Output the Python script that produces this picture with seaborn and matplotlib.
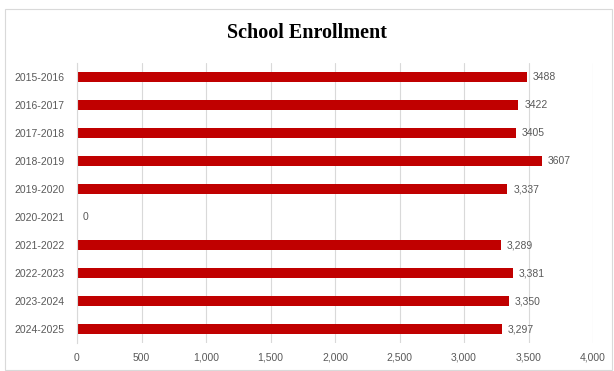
import matplotlib
matplotlib.use("Agg")
import matplotlib.pyplot as plt
import seaborn as sns
import pandas as pd
from matplotlib.patches import Rectangle

years = ["2015-2016", "2016-2017", "2017-2018", "2018-2019", "2019-2020",
         "2020-2021", "2021-2022", "2022-2023", "2023-2024", "2024-2025"]
enrollment = [3488, 3422, 3405, 3607, 3337, 0, 3289, 3381, 3350, 3297]
value_labels = ["3488", "3422", "3405", "3607", "3,337", "0",
                "3,289", "3,381", "3,350", "3,297"]
x_ticks = [0, 500, 1000, 1500, 2000, 2500, 3000, 3500, 4000]
x_tick_labels = ["0", "500", "1,000", "1,500", "2,000", "2,500", "3,000", "3,500", "4,000"]

df = pd.DataFrame({"Year": years, "Enrollment": enrollment})

sns.set_theme(style="white")
plt.rcParams['font.family'] = ['Liberation Sans Narrow', 'Liberation Sans', 'DejaVu Sans']

fig = plt.figure(figsize=(6.14, 3.71), dpi=100)
ax = fig.add_axes([77/614, 1 - 343/371, (593-77)/614, (343-63)/371])

sns.barplot(data=df, x="Enrollment", y="Year", orient="h", color="#C00000",
            width=0.36, ax=ax, saturation=1, edgecolor="#C00000", linewidth=0)

ax.set_xlim(0, 4000)
ax.set_xticks(x_ticks)
ax.set_xticklabels(x_tick_labels, fontsize=7.5, color="#595959")
ax.tick_params(axis="y", labelsize=7.5, labelcolor="#595959", length=0, pad=9)
ax.tick_params(axis="x", length=0, pad=7)
ax.xaxis.grid(True, color="#D9D9D9", linewidth=0.8)
ax.set_axisbelow(True)
for s in ["top", "right", "bottom"]:
    ax.spines[s].set_visible(False)
ax.spines["left"].set_color("#D9D9D9")
ax.spines["left"].set_linewidth(0.8)
ax.set_xlabel("")
ax.set_ylabel("")

for i, (v, lab) in enumerate(zip(enrollment, value_labels)):
    ax.text(v + 45, i, lab, va="center", ha="left", fontsize=7.5, color="#595959")

fig.text(0.5, 1 - 33/371, "School Enrollment", ha="center", va="center",
         fontsize=14.5, fontweight="bold", family="Liberation Serif", color="#000000")

fig.patches.append(Rectangle((5/614, 1/371), 607/614, (370-9)/371, transform=fig.transFigure,
                             fill=False, edgecolor="#D9D9D9", linewidth=0.8))

fig.savefig("out.png", dpi=100)
